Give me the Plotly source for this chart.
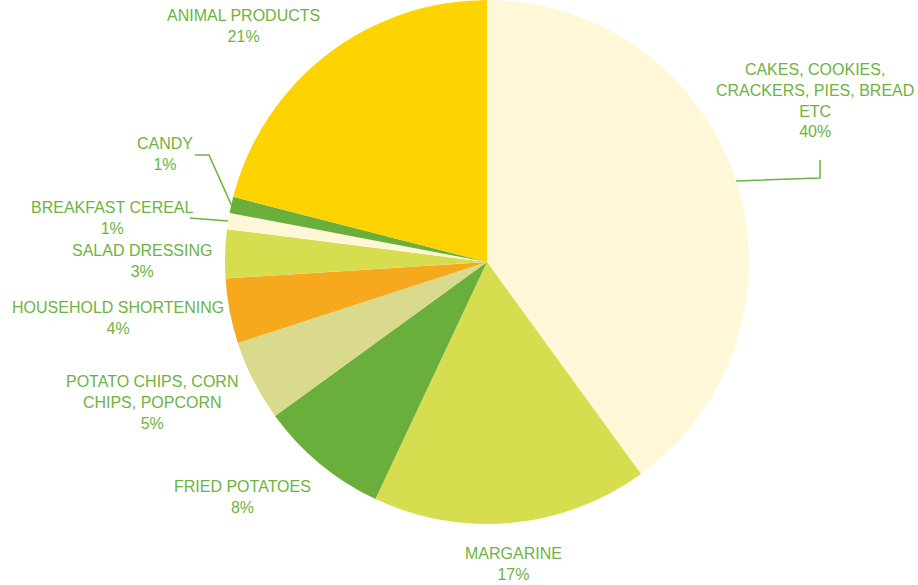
import math
import plotly.graph_objects as go

# ---- data ----
categories = [
    "CAKES, COOKIES,<br>CRACKERS, PIES, BREAD<br>ETC",
    "MARGARINE",
    "FRIED POTATOES",
    "POTATO CHIPS, CORN<br>CHIPS, POPCORN",
    "HOUSEHOLD SHORTENING",
    "SALAD DRESSING",
    "BREAKFAST CEREAL",
    "CANDY",
    "ANIMAL PRODUCTS",
]
values = [40, 17, 8, 5, 4, 3, 1, 1, 21]

# ---- style ----
colors = ["#FEF8D8", "#D6DE50", "#6AAF3C", "#D9DA8C", "#F7A91D",
          "#D6DE50", "#FEF8D8", "#6AAF3C", "#FDD301"]
TEXT_COLOR = "#6DB33F"
W, H = 918, 585
CX, CY, R = 487, 262, 262  # pie centre / radius in pixels
# label centres (pixels) for each category
label_pos = [(815, 100), (513, 564), (242, 497), (152, 402), (118, 318),
             (142, 261), (112, 218), (165, 154), (243, 26)]
# leader-line elbows (pixels), keyed by category index; last point is the pie edge
leaders = {
    0: [(820, 160), (820, 178)],
    7: [(195, 155), (209, 155)],
    6: [(190, 218)],
}

def px(x):
    return x / W

def py(y):
    return 1 - y / H

fig = go.Figure()
fig.add_trace(go.Pie(
    labels=[c.replace("<br>", " ") for c in categories],
    values=values,
    sort=False,
    direction="clockwise",
    rotation=0,
    marker=dict(colors=colors, line=dict(width=0)),
    textinfo="none",
    hoverinfo="label+percent",
    showlegend=False,
    domain=dict(x=[px(CX - R), px(CX + R)], y=[max(0, py(CY + R)), min(1, py(CY - R))]),
))

total = sum(values)
cum = 0
annotations = []
shapes = []
for i, (cat, v) in enumerate(zip(categories, values)):
    mid = (cum + v / 2) / total * 2 * math.pi
    cum += v
    pct = round(100 * v / total)
    lx, ly = label_pos[i]
    annotations.append(dict(
        x=px(lx), y=py(ly), xref="paper", yref="paper",
        text=f"{cat}<br>{pct}%", showarrow=False,
        xanchor="center", yanchor="middle", align="center",
        font=dict(family="Liberation Sans, Arial, sans-serif", size=16, color=TEXT_COLOR),
    ))
    if i in leaders:
        ex = CX + R * math.sin(mid)
        ey = CY - R * math.cos(mid)
        pts = leaders[i] + [(ex, ey)]
        path = "M " + " L ".join(f"{px(a):.5f},{py(b):.5f}" for a, b in pts)
        shapes.append(dict(type="path", path=path, xref="paper", yref="paper",
                           line=dict(color=TEXT_COLOR, width=1.5)))

fig.update_layout(
    width=W, height=H,
    margin=dict(l=0, r=0, t=0, b=0),
    paper_bgcolor="white",
    plot_bgcolor="white",
    annotations=annotations,
    shapes=shapes,
)

fig.write_html(
    "out.html",
    config={"displayModeBar": False},
    post_script="document.body.style.margin='0';document.body.style.overflow='hidden';"
                "document.documentElement.style.overflow='hidden';",
)
